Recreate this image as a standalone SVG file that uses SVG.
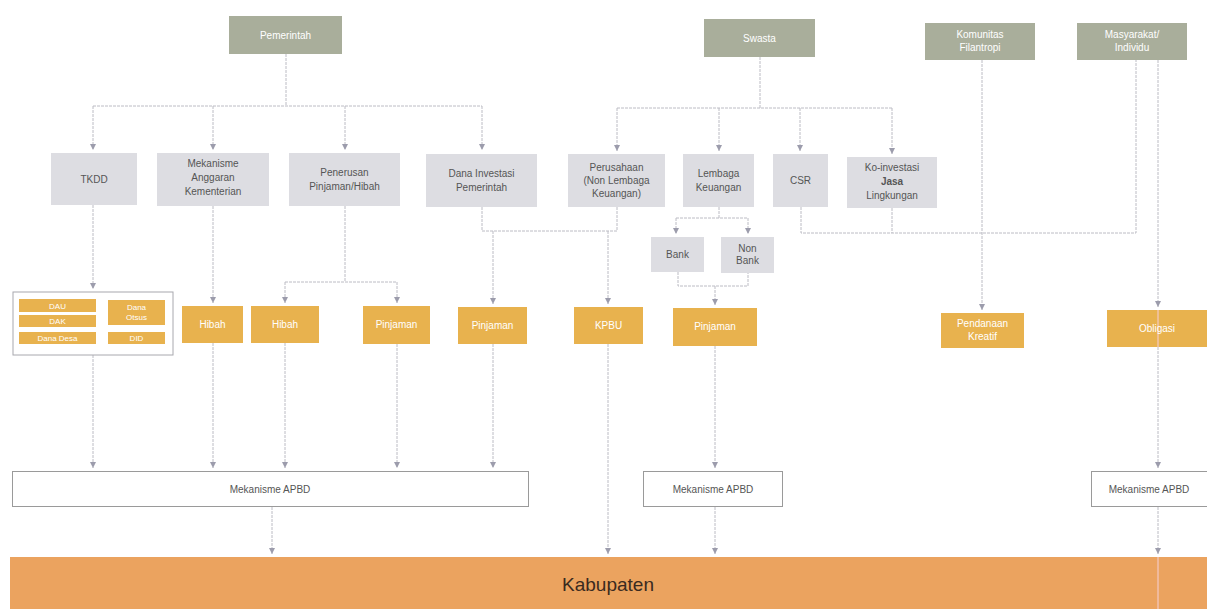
<svg xmlns="http://www.w3.org/2000/svg" width="1207" height="609" viewBox="0 0 1207 609">
<style>
.top{fill:#a9ae9b}
.mid{fill:#dddde2}
.org{fill:#e8b24e}
.apbd{fill:#ffffff;stroke:#9a9a9a;stroke-width:1}
.tw{font-family:"Liberation Sans",Arial,sans-serif;font-size:10px;fill:#ffffff;text-anchor:middle}
.td{font-family:"Liberation Sans",Arial,sans-serif;font-size:10px;fill:#555555;text-anchor:middle}
.ts{font-family:"Liberation Sans",Arial,sans-serif;font-size:8px;fill:#ffffff;text-anchor:middle}
.con{fill:none;stroke:#bcbcc4;stroke-width:1;stroke-dasharray:3 1}
.pink{fill:none;stroke:#f3c9c4;stroke-width:1.2}
</style>
<defs>
<marker id="ah" markerUnits="userSpaceOnUse" markerWidth="8" markerHeight="7" refX="6" refY="3.5" orient="auto" viewBox="0 0 8 7">
<path d="M0 0.5 L6 3.5 L0 6.5 Z" fill="#9c9cac"/>
</marker>
</defs>
<rect width="1207" height="609" fill="#ffffff"/>

<g id="kabupaten">
<rect x="10" y="557" width="1197" height="52" fill="#eba35f"/>
<text x="608" y="591" font-family="'Liberation Sans',Arial,sans-serif" font-size="19" fill="#3a2a20" text-anchor="middle">Kabupaten</text>
</g>

<g id="connectors">
<path class="con" d="M286 54 V106 M93 106 H482"/>
<path class="con" d="M93 106 V150" marker-end="url(#ah)"/>
<path class="con" d="M213 106 V150" marker-end="url(#ah)"/>
<path class="con" d="M345 106 V150" marker-end="url(#ah)"/>
<path class="con" d="M482 106 V150" marker-end="url(#ah)"/>
<path class="con" d="M760 57 V108 M617 108 H892"/>
<path class="con" d="M617 108 V151" marker-end="url(#ah)"/>
<path class="con" d="M719 108 V151" marker-end="url(#ah)"/>
<path class="con" d="M800 108 V151" marker-end="url(#ah)"/>
<path class="con" d="M892 108 V154" marker-end="url(#ah)"/>
<path class="con" d="M482 207 V231 H617 V207"/>
<path class="con" d="M493 231 V304" marker-end="url(#ah)"/>
<path class="con" d="M608 231 V304" marker-end="url(#ah)"/>
<path class="con" d="M719 207 V218 M676 218 H748"/>
<path class="con" d="M676 218 V234" marker-end="url(#ah)"/>
<path class="con" d="M748 218 V234" marker-end="url(#ah)"/>
<path class="con" d="M678 272 V286 H748 V273"/>
<path class="con" d="M715 286 V305" marker-end="url(#ah)"/>
<path class="con" d="M801 207 V233 H1136 V60 M892 208 V233"/>
<path class="con" d="M982 60 V310" marker-end="url(#ah)"/>
<path class="con" d="M1158 60 V307" marker-end="url(#ah)"/>
<path class="con" d="M345 206 V282 M285 282 H397"/>
<path class="con" d="M285 282 V303" marker-end="url(#ah)"/>
<path class="con" d="M397 282 V303" marker-end="url(#ah)"/>
<path class="con" d="M93 205 V289" marker-end="url(#ah)"/>
<path class="con" d="M213 206 V303" marker-end="url(#ah)"/>
<path class="con" d="M93 355 V468" marker-end="url(#ah)"/>
<path class="con" d="M213 343 V468" marker-end="url(#ah)"/>
<path class="con" d="M285 343 V468" marker-end="url(#ah)"/>
<path class="con" d="M397 344 V468" marker-end="url(#ah)"/>
<path class="con" d="M493 344 V468" marker-end="url(#ah)"/>
<path class="con" d="M715 346 V468" marker-end="url(#ah)"/>
<path class="con" d="M1158 347 V468" marker-end="url(#ah)"/>
<path class="con" d="M608 344 V554" marker-end="url(#ah)"/>
<path class="con" d="M272 507 V554" marker-end="url(#ah)"/>
<path class="con" d="M715 507 V554" marker-end="url(#ah)"/>
<path class="con" d="M1158 507 V554" marker-end="url(#ah)"/>
</g>

<g id="pemerintah"><rect class="top" x="229" y="16" width="113" height="38"/><text class="tw" x="285.5" y="39">Pemerintah</text></g>
<g id="swasta"><rect class="top" x="704" y="19" width="111" height="38"/><text class="tw" x="759.5" y="42">Swasta</text></g>
<g id="komunitas"><rect class="top" x="925" y="23" width="110" height="37"/><text class="tw" x="980" y="38">Komunitas</text><text class="tw" x="980" y="51">Filantropi</text></g>
<g id="masyarakat"><rect class="top" x="1077" y="23" width="110" height="37"/><text class="tw" x="1132" y="38">Masyarakat/</text><text class="tw" x="1132" y="51">Individu</text></g>

<g id="tkdd"><rect class="mid" x="51" y="153" width="86" height="52"/><text class="td" x="94" y="183">TKDD</text></g>
<g id="mekanisme-anggaran"><rect class="mid" x="157" y="153" width="112" height="53"/><text class="td" x="213" y="167">Mekanisme</text><text class="td" x="213" y="181">Anggaran</text><text class="td" x="213" y="195">Kementerian</text></g>
<g id="penerusan"><rect class="mid" x="289" y="153" width="111" height="53"/><text class="td" x="344.5" y="176">Penerusan</text><text class="td" x="344.5" y="190">Pinjaman/Hibah</text></g>
<g id="dana-investasi"><rect class="mid" x="426" y="154" width="111" height="53"/><text class="td" x="481.5" y="177">Dana Investasi</text><text class="td" x="481.5" y="191">Pemerintah</text></g>
<g id="perusahaan"><rect class="mid" x="568" y="154" width="97" height="53"/><text class="td" x="616.5" y="171" font-size="9">Perusahaan</text><text class="td" x="616.5" y="184" font-size="9">(Non Lembaga</text><text class="td" x="616.5" y="197" font-size="9">Keuangan)</text></g>
<g id="lembaga"><rect class="mid" x="683" y="154" width="71" height="53"/><text class="td" x="718.5" y="177">Lembaga</text><text class="td" x="718.5" y="191">Keuangan</text></g>
<g id="csr"><rect class="mid" x="773" y="154" width="55" height="53"/><text class="td" x="800.5" y="184">CSR</text></g>
<g id="ko-investasi"><rect class="mid" x="847" y="157" width="90" height="51"/><text class="td" x="892" y="171">Ko-investasi</text><text class="td" x="892" y="185" font-weight="bold">Jasa</text><text class="td" x="892" y="199">Lingkungan</text></g>

<g id="bank"><rect class="mid" x="651" y="237" width="53" height="35"/><text class="td" x="677.5" y="258" font-size="8.5">Bank</text></g>
<g id="non-bank"><rect class="mid" x="721" y="237" width="53" height="36"/><text class="td" x="747.5" y="252" font-size="8.5">Non</text><text class="td" x="747.5" y="264" font-size="8.5">Bank</text></g>

<g id="tkdd-items">
<rect x="13" y="292" width="160" height="63" fill="#ffffff" stroke="#a8a8ae" stroke-width="1"/>
<rect class="org" x="19" y="299" width="77" height="13"/><text class="ts" x="57.5" y="308.5">DAU</text>
<rect class="org" x="19" y="315" width="77" height="12"/><text class="ts" x="57.5" y="324">DAK</text>
<rect class="org" x="19" y="332" width="77" height="12"/><text class="ts" x="57.5" y="341">Dana Desa</text>
<rect class="org" x="108" y="300" width="57" height="25"/><text class="ts" x="136.5" y="310">Dana</text><text class="ts" x="136.5" y="320">Otsus</text>
<rect class="org" x="108" y="332" width="57" height="12"/><text class="ts" x="136.5" y="341">DID</text>
</g>
<g id="hibah-1"><rect class="org" x="182" y="306" width="61" height="37"/><text class="tw" x="212.5" y="328">Hibah</text></g>
<g id="hibah-2"><rect class="org" x="251" y="306" width="68" height="37"/><text class="tw" x="285" y="328">Hibah</text></g>
<g id="pinjaman-1"><rect class="org" x="363" y="306" width="67" height="38"/><text class="tw" x="396.5" y="328">Pinjaman</text></g>
<g id="pinjaman-2"><rect class="org" x="458" y="307" width="69" height="37"/><text class="tw" x="492.5" y="329">Pinjaman</text></g>
<g id="kpbu"><rect class="org" x="574" y="307" width="69" height="37"/><text class="tw" x="608.5" y="329">KPBU</text></g>
<g id="pinjaman-3"><rect class="org" x="673" y="308" width="84" height="38"/><text class="tw" x="715" y="330">Pinjaman</text></g>
<g id="pendanaan-kreatif"><rect class="org" x="941" y="313" width="83" height="35"/><text class="tw" x="982.5" y="327">Pendanaan</text><text class="tw" x="982.5" y="340">Kreatif</text></g>
<g id="obligasi"><rect class="org" x="1107" y="310" width="100" height="37"/><line class="pink" x1="1158" y1="310" x2="1158" y2="347"/><text class="tw" x="1157" y="332">Obligasi</text></g>

<g id="apbd-1"><rect class="apbd" x="12.5" y="471.5" width="516" height="35"/><text class="td" x="270" y="493" font-size="10.5">Mekanisme APBD</text></g>
<g id="apbd-2"><rect class="apbd" x="643.5" y="471.5" width="139" height="35"/><text class="td" x="713" y="493" font-size="10.5">Mekanisme APBD</text></g>
<g id="apbd-3"><rect class="apbd" x="1091.5" y="471.5" width="120" height="35"/><text class="td" x="1149" y="493" font-size="10.5">Mekanisme APBD</text></g>
<line class="pink" x1="1158" y1="557" x2="1158" y2="609"/>
</svg>
